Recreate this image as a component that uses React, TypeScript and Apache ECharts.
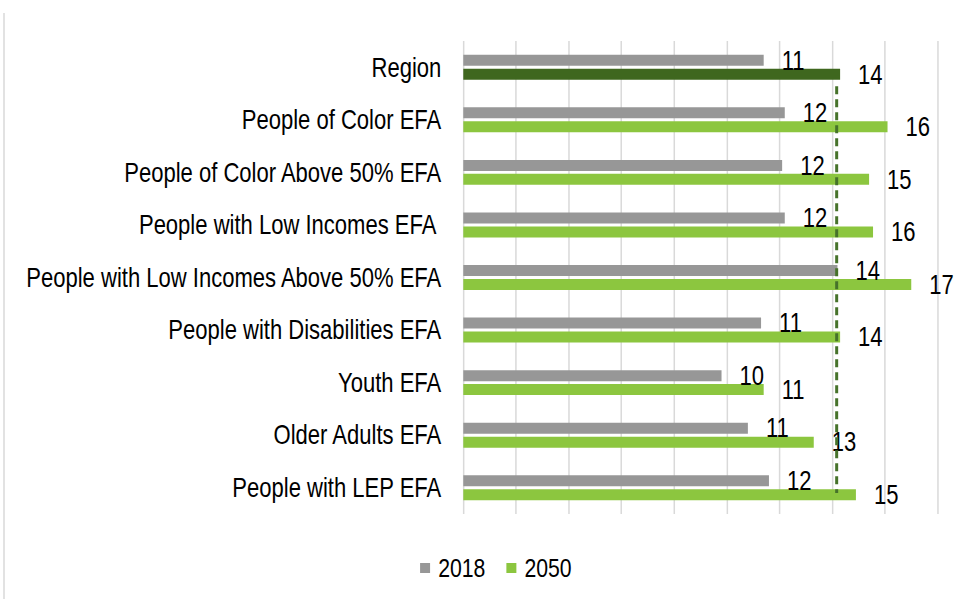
import React, { useEffect, useRef } from "react";
import * as echarts from "echarts";

const categories = [
  "Region",
  "People of Color EFA",
  "People of Color Above 50% EFA",
  "People with Low Incomes EFA ",
  "People with Low Incomes Above 50% EFA",
  "People with Disabilities EFA",
  "Youth EFA",
  "Older Adults EFA",
  "People with LEP EFA",
];
const values2018 = [11.4, 12.2, 12.1, 12.2, 14.2, 11.3, 9.8, 10.8, 11.6];
const values2050 = [14.3, 16.1, 15.4, 15.55, 17.0, 14.3, 11.4, 13.3, 14.9];
const regionReference = 14.17;
const referenceSpan = [0.86, 8.6];
const seriesNames = ["2018", "2050"];

const FONT = "'Liberation Sans', Arial, sans-serif";
const FS = 27;
// The reference uses horizontally condensed text; render wider and squeeze.
const SX = 1.225;
const W = Math.round(959 * SX);
const px = (v: number) => v * SX; // final-pixel x distance -> render space

export default function App() {
  const ref = useRef<HTMLDivElement>(null);
  useEffect(() => {
    if (!ref.current) return;
    const chart = echarts.init(ref.current, null, { renderer: "svg" });
    const labelStyle = {
      show: true,
      position: "right",
      distance: px(18),
      color: "#000",
      fontSize: FS,
      fontFamily: FONT,
      formatter: (p: any) => String(Math.round(p.value)),
    };
    chart.setOption({
      animation: false,
      backgroundColor: "#fff",
      textStyle: { fontFamily: FONT },
      grid: {
        left: px(463.3),
        right: W - px(937.6),
        top: 41,
        bottom: 85,
        containLabel: false,
        outerBoundsMode: "none",
      },
      legend: {
        data: seriesNames,
        top: 550,
        left: px(416),
        icon: "rect",
        itemWidth: px(10),
        itemHeight: 10,
        itemGap: px(21),
        textStyle: {
          fontSize: 26,
          color: "#000",
          fontFamily: FONT,
          padding: [0, 0, 0, px(4)],
        },
      },
      xAxis: {
        type: "value",
        min: 0,
        max: 18,
        interval: 2,
        axisLabel: { show: false },
        axisLine: { show: false },
        axisTick: { show: false },
        splitLine: { lineStyle: { color: "#d9d9d9", width: px(1.5) } },
      },
      yAxis: [
        {
          type: "category",
          data: categories,
          inverse: true,
          axisLine: { show: false },
          axisTick: { show: false },
          axisLabel: { fontSize: FS, color: "#000", fontFamily: FONT, margin: px(22) },
        },
        { type: "value", min: 0, max: 9, inverse: true, show: false },
      ],
      series: [
        {
          name: seriesNames[0],
          type: "bar",
          data: values2018,
          barWidth: 11,
          barGap: "27%",
          itemStyle: { color: "#979797" },
          label: labelStyle,
        },
        {
          name: seriesNames[1],
          type: "bar",
          data: values2050.map((v, i) =>
            i === 0 ? { value: v, itemStyle: { color: "#3f671e" } } : v
          ),
          barWidth: 11,
          itemStyle: { color: "#8cc63f" },
          label: labelStyle,
        },
        {
          name: "Region reference",
          type: "line",
          yAxisIndex: 1,
          data: [
            [regionReference, referenceSpan[0]],
            [regionReference, referenceSpan[1]],
          ],
          symbol: "none",
          silent: true,
          lineStyle: { color: "#46722a", width: px(3), type: [8, 5] },
          z: 5,
        },
      ],
      graphic: [
        {
          type: "line",
          shape: { x1: px(4), y1: 13, x2: px(4), y2: 599 },
          style: { stroke: "#d9d9d9", lineWidth: px(1.5) },
        },
      ],
    });
    return () => chart.dispose();
  }, []);
  return (
    <div
      style={{
        position: "absolute",
        left: 0,
        top: 0,
        width: 959,
        height: 599,
        overflow: "hidden",
        background: "#fff",
      }}
    >
      <div
        ref={ref}
        style={{
          width: W,
          height: 599,
          transform: `scaleX(${1 / SX})`,
          transformOrigin: "0 0",
        }}
      />
    </div>
  );
}
